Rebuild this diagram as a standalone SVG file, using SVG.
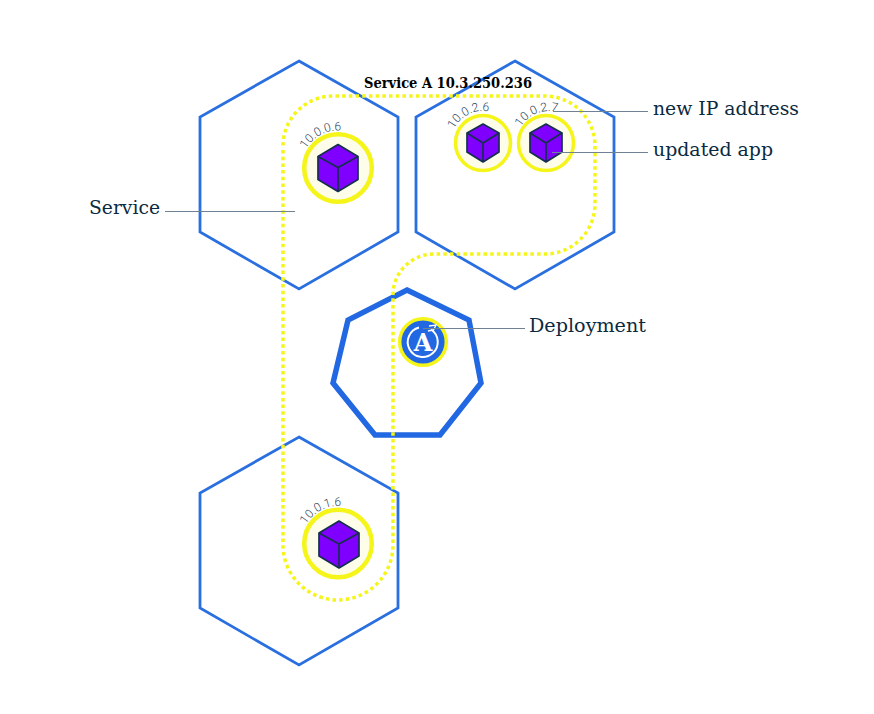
<svg xmlns="http://www.w3.org/2000/svg" width="874" height="714" viewBox="0 0 874 714">
<style>
.hex{fill:none;stroke:#2a6fe0;stroke-width:2.8;stroke-linejoin:miter}
.hept{fill:none;stroke:#2168e2;stroke-width:5.500}
.ring{fill:#fdfdea;stroke:#f5f51a;stroke-width:4.500}
.ring2{fill:#fdfdea;stroke:#f5f51a;stroke-width:3.500}
.cube{fill:#8000ff;stroke:#14304c;stroke-width:1.7;stroke-linejoin:round}
.ip{font-family:"Roboto","Liberation Sans",sans-serif;font-weight:300;font-size:12px;fill:#2c4458}
.lbl{font-family:"DejaVu Serif","Liberation Serif",serif;font-size:18px;fill:#0b2a40}
.ttl{font-family:"DejaVu Serif","Liberation Serif",serif;font-size:14.5px;font-weight:700;fill:#000}
.lead{stroke:#6f8294;stroke-width:1;fill:none}
.svc{fill:none;stroke:#f5f51a;stroke-width:3.500;stroke-dasharray:3.500 3.200}
</style>
<defs>
<path id="a1" d="M306,149 A38,38 0 0 1 352,132.700"/>
<path id="a2" d="M306,524.500 A38,38 0 0 1 352,508.200"/>
<path id="a3" d="M454,129 A32,32 0 0 1 496,113.800"/>
<path id="a4" d="M521,127 A32,32 0 0 1 562,113.800"/>
<g id="cubeS"><path class="cube" d="M0,-19 16,-10 16,9 0,19 -16,9 -16,-10Z"/><path class="cube" style="fill:none" d="M-16,-10 0,0 16,-10M0,0V19"/></g>
<g id="cubeL"><path class="cube" d="M0,-23 20,-11 20,12 0,24 -20,12 -20,-11Z"/><path class="cube" style="fill:none" d="M-20,-11 0,0 20,-11M0,0V24"/></g>
</defs>
<g id="node-hex1"><polygon class="hex" points="299,61 398,117 398,232 299,289 200,232 200,117"/></g>
<g id="node-hex2"><polygon class="hex" points="515,61 614,117 614,232 515,289 416,232 416,117"/></g>
<g id="node-hex3"><polygon class="hex" points="299,437 398,493 398,608 299,665 200,608 200,493"/></g>
<g id="node-master"><polygon class="hept" points="407,290 469,320 481,383 440,435 375,435 333,383 348,320"/></g>
<g id="node-pod1"><circle class="ring" cx="338" cy="168" r="33.800"/><use href="#cubeL" x="338" y="167.500"/><text class="ip"><textPath href="#a1">10.0.0.6</textPath></text></g>
<g id="node-pod2"><circle class="ring2" cx="483" cy="143" r="27.500"/><use href="#cubeS" x="483" y="143"/><text class="ip"><textPath href="#a3">10.0.2.6</textPath></text></g>
<g id="node-pod3"><circle class="ring2" cx="546" cy="143" r="27.500"/><use href="#cubeS" x="546" y="143"/><text class="ip"><textPath href="#a4">10.0.2.7</textPath></text></g>
<g id="node-pod4"><circle class="ring" cx="338" cy="543.500" r="33.800"/><use href="#cubeL" x="339" y="544"/><text class="ip"><textPath href="#a2">10.0.1.6</textPath></text></g>
<g id="node-deployment"><circle cx="423" cy="342" r="23.300" fill="#2168e2" stroke="#f5f51a" stroke-width="3.500"/>
<path d="M431,329.500 A15,15 0 1 1 419,327.500" fill="none" stroke="#fff" stroke-width="2"/>
<path d="M429,326 L436,325 L433,331 M428,331 L433,330" fill="none" stroke="#fff" stroke-width="1.300"/>
<text x="423" y="351" text-anchor="middle" font-family="DejaVu Serif,serif" font-weight="700" font-size="24" fill="#fff">A</text></g>
<g id="connectors">
<path class="svc" d="M283,150 V545 A55,55 0 0 0 393,545 V295 A41,41 0 0 1 434,254 H545 A50,50 0 0 0 595,204 V146 A50,50 0 0 0 545,96 H333 A50,50 0 0 0 283,146"/>
<path class="lead" d="M165,211.500H295M553,111.500H648M552,152.500H648M423,328.500H525"/>
</g>
<text class="ttl" x="364" y="88" textLength="168" lengthAdjust="spacingAndGlyphs">Service A 10.3.250.236</text>
<text class="lbl" x="89" y="214" textLength="71" lengthAdjust="spacingAndGlyphs">Service</text>
<text class="lbl" x="653" y="115" textLength="146" lengthAdjust="spacingAndGlyphs">new IP address</text>
<text class="lbl" x="653" y="156" textLength="120" lengthAdjust="spacingAndGlyphs">updated app</text>
<text class="lbl" x="529" y="332" textLength="117" lengthAdjust="spacingAndGlyphs">Deployment</text>
</svg>
